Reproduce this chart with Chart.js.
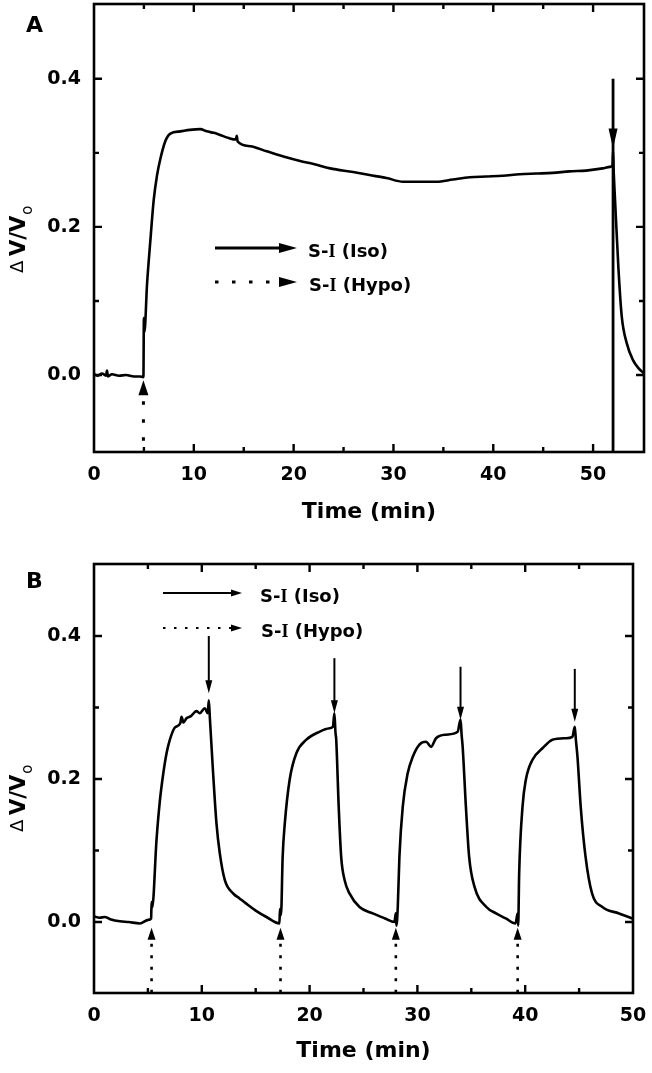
<!DOCTYPE html>
<html><head><meta charset="utf-8">
<script src="https://cdn.jsdelivr.net/npm/chart.js@4"></script>
<style>
html,body{margin:0;padding:0;background:#fff;width:652px;height:1073px;overflow:hidden}
canvas{position:absolute;left:0}
#ca{top:0}#cb{top:535px}
</style></head>
<body>
<canvas id="ca" width="652" height="535"></canvas>
<canvas id="cb" width="652" height="538"></canvas>
<script>
// ---------- Panel A data ----------
const timeA = [0,0.4,0.8,1.2,1.3,1.4,1.8,2.5,3.2,4.0,4.6,4.95,5.0,5.05,5.32,5.65,5.98,6.32,6.65,7.15,7.65,8.65,9.6,10.65,11.3,12.0,12.65,13.5,14.2,14.3,14.4,15.65,17.3,18.98,20.65,22.0,23.65,25.95,27.6,29.3,30.95,32.6,34.3,35.95,37.65,39.3,40.95,42.65,44.3,45.95,47.65,49.3,50.95,51.7,51.95,52.0,52.05,52.2,52.53,52.87,53.37,54.0,54.5,55.1];
const dvA   = [0.001,-0.001,0.002,-0.001,0.006,-0.002,0.001,-0.001,0.0,-0.002,-0.002,-0.003,0.077,0.058,0.124,0.182,0.236,0.270,0.292,0.316,0.326,0.329,0.331,0.332,0.329,0.327,0.324,0.320,0.318,0.323,0.315,0.309,0.302,0.295,0.289,0.285,0.279,0.274,0.270,0.266,0.261,0.261,0.261,0.264,0.267,0.268,0.269,0.271,0.272,0.273,0.275,0.276,0.279,0.281,0.283,0.302,0.280,0.236,0.146,0.079,0.043,0.020,0.010,0.002];
const isoA  = {x:[52.0], top:[0.4], tip:[0.306]};
const hypoA = {x:[4.95], tip:[-0.007]};

// ---------- Panel B data ----------
const timeB = [0,0.5,1.0,1.5,2.4,3.2,4.26,5.03,5.3,5.34,5.4,5.8,6.1,6.42,6.73,7.04,7.5,8.0,8.12,8.3,8.58,9.0,9.5,9.8,10.28,10.55,10.65,10.75,11.05,11.36,11.67,12.13,12.9,13.5,14.1,15.0,16.0,17.2,17.25,17.35,17.5,17.7,18.15,18.77,19.7,20.9,21.85,22.16,22.3,22.4,22.47,22.7,22.93,23.24,23.7,24.63,25.86,27.0,27.87,28.0,28.05,28.18,28.33,28.64,29.1,29.57,30.19,30.8,31.27,31.73,32.66,33.73,34.0,34.1,34.2,34.5,34.8,35.3,36.4,37.3,38.2,39.1,39.3,39.35,39.44,39.75,40.06,40.68,41.6,42.53,43.77,44.38,44.6,44.7,44.85,45.15,45.6,46.2,47.16,48.7,49.94];
const dvB   = [0.008,0.006,0.007,0.004,0.001,0.0,-0.002,0.003,0.005,0.028,0.02,0.115,0.168,0.207,0.236,0.255,0.272,0.278,0.287,0.279,0.285,0.288,0.295,0.292,0.299,0.292,0.31,0.285,0.208,0.138,0.096,0.059,0.040,0.033,0.026,0.016,0.007,-0.002,0.018,0.01,0.091,0.138,0.199,0.236,0.255,0.266,0.271,0.273,0.292,0.265,0.255,0.161,0.091,0.059,0.040,0.021,0.012,0.005,0.0,0.012,-0.005,0.021,0.091,0.161,0.208,0.231,0.248,0.252,0.245,0.257,0.262,0.266,0.283,0.262,0.245,0.161,0.091,0.049,0.021,0.012,0.005,-0.002,0.012,-0.005,0.068,0.161,0.199,0.227,0.243,0.255,0.257,0.259,0.273,0.255,0.231,0.161,0.091,0.040,0.021,0.012,0.005];
const isoB  = {x:[10.65,22.3,34.0,44.6], top:[0.4,0.369,0.357,0.354], tip:[0.32,0.292,0.283,0.28]};
const hypoB = {x:[5.34,17.3,28.0,39.3], tip:[-0.008,-0.008,-0.008,-0.008]};

// ---------- axes / labels ----------
const xTicksA = [0,10,20,30,40,50];
const xTicksB = [0,10,20,30,40,50];
const yTicks  = [0.0,0.2,0.4];
const xTitle = 'Time (min)';
const legendLabels = [['S-','I',' (Iso)'],['S-','I',' (Hypo)']];
const panelLetters = ['A','B'];

const SANS = '"DejaVu Sans", sans-serif';
const SERIF = '"Liberation Serif", "DejaVu Serif", serif';
Chart.defaults.font.family = SANS;
Chart.defaults.color = '#000';

function headV(ctx,x,tip,dir,len,half){ // dir 1: pointing down
  ctx.beginPath(); ctx.moveTo(x,tip); ctx.lineTo(x-half,tip-dir*len); ctx.lineTo(x+half,tip-dir*len); ctx.closePath(); ctx.fill();
}
function headH(ctx,tipX,y,len,half){
  ctx.beginPath(); ctx.moveTo(tipX,y); ctx.lineTo(tipX-len,y-half); ctx.lineTo(tipX-len,y+half); ctx.closePath(); ctx.fill();
}

const deco = {
  id:'deco',
  afterDatasetsDraw(chart, args, o){
    const ctx = chart.ctx, ca = chart.chartArea, xs = chart.scales.x, ys = chart.scales.y;
    ctx.save();
    ctx.fillStyle = '#000'; ctx.strokeStyle = '#000'; ctx.lineCap = 'butt';
    // Iso (solid) arrows
    o.iso.x.forEach((xv,i)=>{
      const px = xs.getPixelForValue(xv), top = ys.getPixelForValue(o.iso.top[i]), tip = ys.getPixelForValue(o.iso.tip[i]);
      ctx.setLineDash([]); ctx.lineWidth = o.isoLW;
      ctx.beginPath(); ctx.moveTo(px, top); ctx.lineTo(px, o.isoToAxis ? ca.bottom : tip - o.isoLen + 1); ctx.stroke();
      headV(ctx, px, tip, 1, o.isoLen, o.isoHalf);
    });
    // Hypo (dotted) arrows
    o.hypo.x.forEach((xv,i)=>{
      const px = xs.getPixelForValue(xv), tip = ys.getPixelForValue(o.hypo.tip[i]);
      headV(ctx, px, tip, -1, o.hypoLen, o.hypoHalf);
      ctx.lineWidth = o.dotW; ctx.setLineDash(o.hypoDash);
      ctx.beginPath(); ctx.moveTo(px, tip + o.hypoLen + o.hypoGap); ctx.lineTo(px, ca.bottom); ctx.stroke();
    });
    ctx.setLineDash([]);
    // frame
    ctx.lineWidth = 2.6;
    ctx.strokeRect(ca.left, ca.top, ca.right - ca.left, ca.bottom - ca.top);
    // inward ticks on all four sides
    ctx.lineWidth = 2.4;
    const xt = o.xTicks, ymax = ys.max;
    const majX = xt.slice(), minX = [];
    for (let v = xt[0] + 5; v < xs.max; v += 10) minX.push(v);
    const majY = yTicks.slice(), minY = [];
    for (let v = -0.1; v < ymax; v += 0.2) minY.push(Math.round(v*10)/10);
    const tickX = (v,len)=>{ const p = xs.getPixelForValue(v); if (p < ca.left+3 || p > ca.right-3) return;
      ctx.beginPath(); ctx.moveTo(p, ca.bottom); ctx.lineTo(p, ca.bottom-len); ctx.moveTo(p, ca.top); ctx.lineTo(p, ca.top+len); ctx.stroke(); };
    const tickY = (v,len)=>{ const p = ys.getPixelForValue(v); if (p < ca.top+3 || p > ca.bottom-3) return;
      ctx.beginPath(); ctx.moveTo(ca.left, p); ctx.lineTo(ca.left+len, p); ctx.moveTo(ca.right, p); ctx.lineTo(ca.right-len, p); ctx.stroke(); };
    majX.forEach(v=>tickX(v,8)); minX.forEach(v=>tickX(v,5));
    majY.forEach(v=>tickY(v,8)); minY.forEach(v=>tickY(v,5));
    ctx.restore();
  },
  afterDraw(chart, args, o){
    const ctx = chart.ctx, ca = chart.chartArea;
    ctx.save(); ctx.fillStyle = '#000'; ctx.strokeStyle = '#000';
    // panel letter
    ctx.font = 'bold 22px ' + SANS; ctx.textBaseline = 'alphabetic'; ctx.textAlign = 'left';
    ctx.fillText(o.letter, 26, o.letterY);
    // x title
    ctx.font = 'bold 22px ' + SANS; ctx.textAlign = 'center';
    ctx.fillText(xTitle, (ca.left + ca.right)/2, ca.bottom + o.xTitleDy);
    // y title (rotated)
    ctx.save();
    ctx.translate(25, o.yTitleStart); ctx.rotate(-Math.PI/2);
    ctx.textAlign = 'left';
    ctx.font = '18px ' + SANS; ctx.fillText('\u0394', 0, -2);
    ctx.font = 'bold 21px ' + SANS; ctx.fillText('V/V', 17, 0);
    const w = ctx.measureText('V/V').width;
    ctx.font = '15px ' + SANS; ctx.fillText('o', 17 + w + 1, 7);
    ctx.restore();
    // legend
    const L = o.legend;
    [0,1].forEach(r=>{
      const y = L.y[r];
      ctx.lineWidth = L.lw;
      ctx.setLineDash(r === 0 ? [] : L.dash);
      ctx.beginPath(); ctx.moveTo(L.x0, y); ctx.lineTo(L.tip - L.len + 1, y); ctx.stroke();
      ctx.setLineDash([]);
      headH(ctx, L.tip, y, L.len, L.half);
      let tx = L.tx[r];
      const parts = legendLabels[r];
      ctx.textAlign = 'left';
      parts.forEach((p,k)=>{
        ctx.font = (k === 1 ? 'bold 18px ' + SERIF : 'bold 18px ' + SANS);
        ctx.fillText(p, tx, L.base[r]);
        tx += ctx.measureText(p).width;
      });
    });
    ctx.restore();
  }
};

function makeChart(id, time, dv, xmin, xmax, ymin, ymax, pad, xH, xTicks, deco_opts){
  return new Chart(document.getElementById(id), {
    type: 'scatter',
    data: { datasets: [{
      data: time.map((t,i)=>({x:t, y:dv[i]})),
      showLine: true, borderColor: '#000', borderWidth: 2.6, pointRadius: 0,
      cubicInterpolationMode: 'monotone', fill: false
    }]},
    options: {
      responsive: false, animation: false, devicePixelRatio: 1, events: [],
      layout: { padding: pad },
      plugins: { legend: {display:false}, tooltip: {enabled:false}, deco: Object.assign({xTicks}, deco_opts) },
      scales: {
        x: { type:'linear', min:xmin, max:xmax,
          grid:{display:false, drawTicks:false}, border:{display:false},
          afterBuildTicks: s => { s.ticks = xTicks.map(v=>({value:v})); },
          afterFit: s => { s.height = xH; s.paddingLeft = 0; s.paddingRight = 0; },
          ticks:{ padding:12, maxRotation:0, autoSkip:false, color:'#000',
            font:{family:SANS, weight:'bold', size:19}, callback: v => String(v) } },
        y: { type:'linear', min:ymin, max:ymax,
          grid:{display:false, drawTicks:false}, border:{display:false},
          afterBuildTicks: s => { s.ticks = yTicks.map(v=>({value:v})); },
          afterFit: s => { s.width = 94; s.paddingTop = 0; s.paddingBottom = 0; },
          ticks:{ padding:13, color:'#000', font:{family:SANS, weight:'bold', size:19},
            callback: v => Number(v).toFixed(1) } }
      }
    },
    plugins: [deco]
  });
}

makeChart('ca', timeA, dvA, 0, 55.1, -0.104, 0.501, {top:4, right:8, left:0, bottom:0}, 83, xTicksA, {
  iso: isoA, hypo: hypoA, isoToAxis: true, isoLW: 2.8, isoLen: 20, isoHalf: 4.5,
  hypoLen: 15, hypoHalf: 5, hypoGap: 6, hypoDash: [3.5, 14.5], dotW: 3,
  letter: panelLetters[0], letterY: 32, xTitleDy: 66, yTitleStart: 273,
  legend: { x0: 215, tip: 297, len: 18, half: 5, lw: 3, dash: [3.5, 13.5], y: [248, 282], tx: [308, 309], base: [257, 291] }
});
makeChart('cb', timeB, dvB, 0, 50, -0.0993, 0.5007, {top:29, right:19, left:0, bottom:0}, 80, xTicksB, {
  iso: isoB, hypo: hypoB, isoToAxis: false, isoLW: 2, isoLen: 13, isoHalf: 3.5,
  hypoLen: 12, hypoHalf: 4, hypoGap: 4, hypoDash: [3, 8.5], dotW: 2.6,
  letter: panelLetters[1], letterY: 53, xTitleDy: 64, yTitleStart: 297,
  legend: { x0: 163, tip: 242, len: 11, half: 3.5, lw: 2, dash: [2.5, 8.5], y: [58, 93], tx: [260, 261], base: [67, 102] }
});
</script>
</body></html>
